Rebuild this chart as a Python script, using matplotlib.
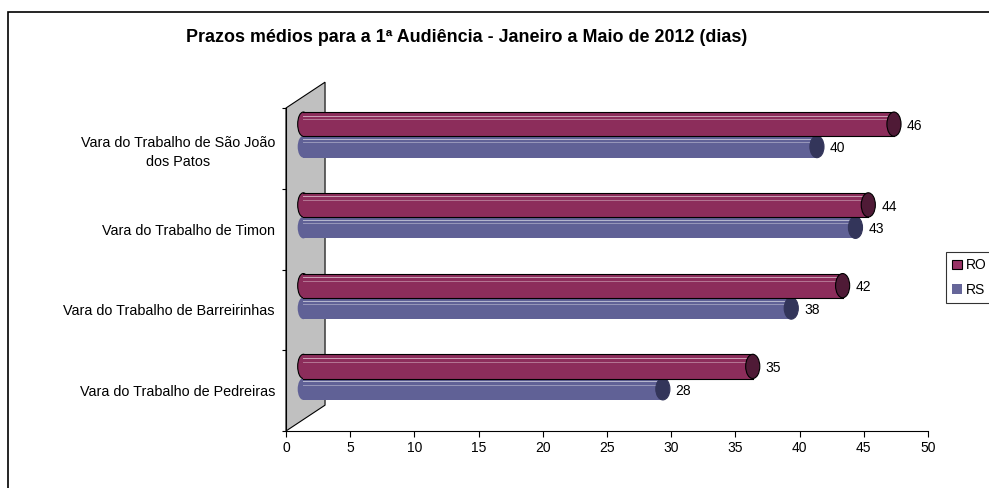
import matplotlib
matplotlib.use('Agg')
import matplotlib.pyplot as plt
from matplotlib.patches import Ellipse, Polygon, Rectangle, Patch

plt.rcParams['font.family'] = ['Liberation Sans', 'DejaVu Sans']

# dados
categorias = ['Vara do Trabalho de Pedreiras',
              'Vara do Trabalho de Barreirinhas',
              'Vara do Trabalho de Timon',
              'Vara do Trabalho de São João\ndos Patos']
ro = [35, 42, 44, 46]
rs = [28, 38, 43, 40]
series = ['RO', 'RS']
xticks = [0, 5, 10, 15, 20, 25, 30, 35, 40, 45, 50]

W, H = 989, 488
fig = plt.figure(figsize=(W / 100, H / 100), dpi=100)
ax = fig.add_axes([286 / W, (H - 431) / H, (928 - 286) / W, (431 - 108) / H])

ax.set_xlim(0, 50)
ax.set_ylim(0, 4)

# parede cinza (efeito 3D)
parede = Polygon([(0, 0), (3.04, 0.32), (3.04, 4.32), (0, 4)], closed=True,
                 facecolor='#C0C0C0', edgecolor='black', lw=0.8,
                 clip_on=False, zorder=1)
ax.add_patch(parede)

dx = 1.35      # deslocamento de profundidade
cap_w = 1.1    # largura da elipse das pontas


def cilindro(vals, dy, h, cor, cor_tampa, borda, z):
    for i, v in enumerate(vals):
        yc = i + 0.5 + dy
        ax.barh(yc, v, left=dx, height=h, color=cor, edgecolor='none', zorder=z)
        # contorno superior / inferior
        if borda:
            ax.plot([dx, v + dx], [yc + h / 2, yc + h / 2], color='black', lw=0.8, zorder=z + 0.1)
            ax.plot([dx, v + dx], [yc - h / 2, yc - h / 2], color='black', lw=0.8, zorder=z + 0.1)
        # reflexos
        for off, a in [(0.35, 0.55), (0.2, 0.35)]:
            ax.plot([dx, v + dx], [yc + off * h, yc + off * h],
                    color='white', lw=0.7, alpha=a, zorder=z + 0.05)
        ax.add_patch(Ellipse((dx, yc), cap_w * 0.8, h, facecolor=cor,
                             edgecolor='black' if borda else 'none', lw=0.8, zorder=z - 0.05))
        ax.add_patch(Ellipse((v + dx, yc), cap_w, h, facecolor=cor_tampa,
                             edgecolor='black' if borda else cor_tampa, lw=0.8, zorder=z + 0.2))
        ax.text(v + dx + 1.0, yc - 0.02, str(v), ha='left', va='center',
                fontsize=10, zorder=z + 0.3)


cilindro(rs, 0.02, 0.27, '#606196', '#33355A', False, 3)
cilindro(ro, 0.30, 0.30, '#8C2D5B', '#4F1A36', True, 5)

# eixos
for s in ['top', 'right']:
    ax.spines[s].set_visible(False)
ax.spines['left'].set_linewidth(0.8)
ax.spines['bottom'].set_linewidth(0.8)
ax.set_xticks(xticks)
ax.set_xticklabels([str(t) for t in xticks], fontsize=10)
ax.tick_params(axis='x', length=4, width=0.8, pad=3)

ax.set_yticks([0, 1, 2, 3, 4])
ax.set_yticklabels([])
ax.tick_params(axis='y', which='major', length=3, width=0.8)
ax.set_yticks([0.5, 1.5, 2.5, 3.5], minor=True)
ax.set_yticklabels(categorias, minor=True, fontsize=10.4)
ax.tick_params(axis='y', which='minor', length=0, pad=8)
for lb in ax.get_yticklabels(minor=True):
    lb.set_multialignment('center')
    lb.set_linespacing(1.45)

fig.text(467 / W, 1 - 37 / H,
         'Prazos médios para a 1ª Audiência - Janeiro a Maio de 2012 (dias)',
         ha='center', va='center', fontsize=12.9, fontweight='bold')

# legenda
handles = [Patch(facecolor='#993366', edgecolor='black', lw=0.8),
           Patch(facecolor='#666699', edgecolor='none')]
leg = fig.legend(handles, series, loc='upper left',
                 bbox_to_anchor=(946 / W, 1 - 252 / H), fontsize=10,
                 frameon=True, fancybox=False, handlelength=0.7, handleheight=0.7,
                 handletextpad=0.3, borderpad=0.45, labelspacing=0.75,
                 borderaxespad=0)
leg.get_frame().set_edgecolor('black')
leg.get_frame().set_linewidth(0.8)

# moldura externa
fig.patches.append(Rectangle((8 / W, -0.05), 1.0, 1 - 12 / H + 0.05,
                             transform=fig.transFigure, fill=False,
                             edgecolor='black', lw=1.2))

fig.savefig('out.png', dpi=100)
